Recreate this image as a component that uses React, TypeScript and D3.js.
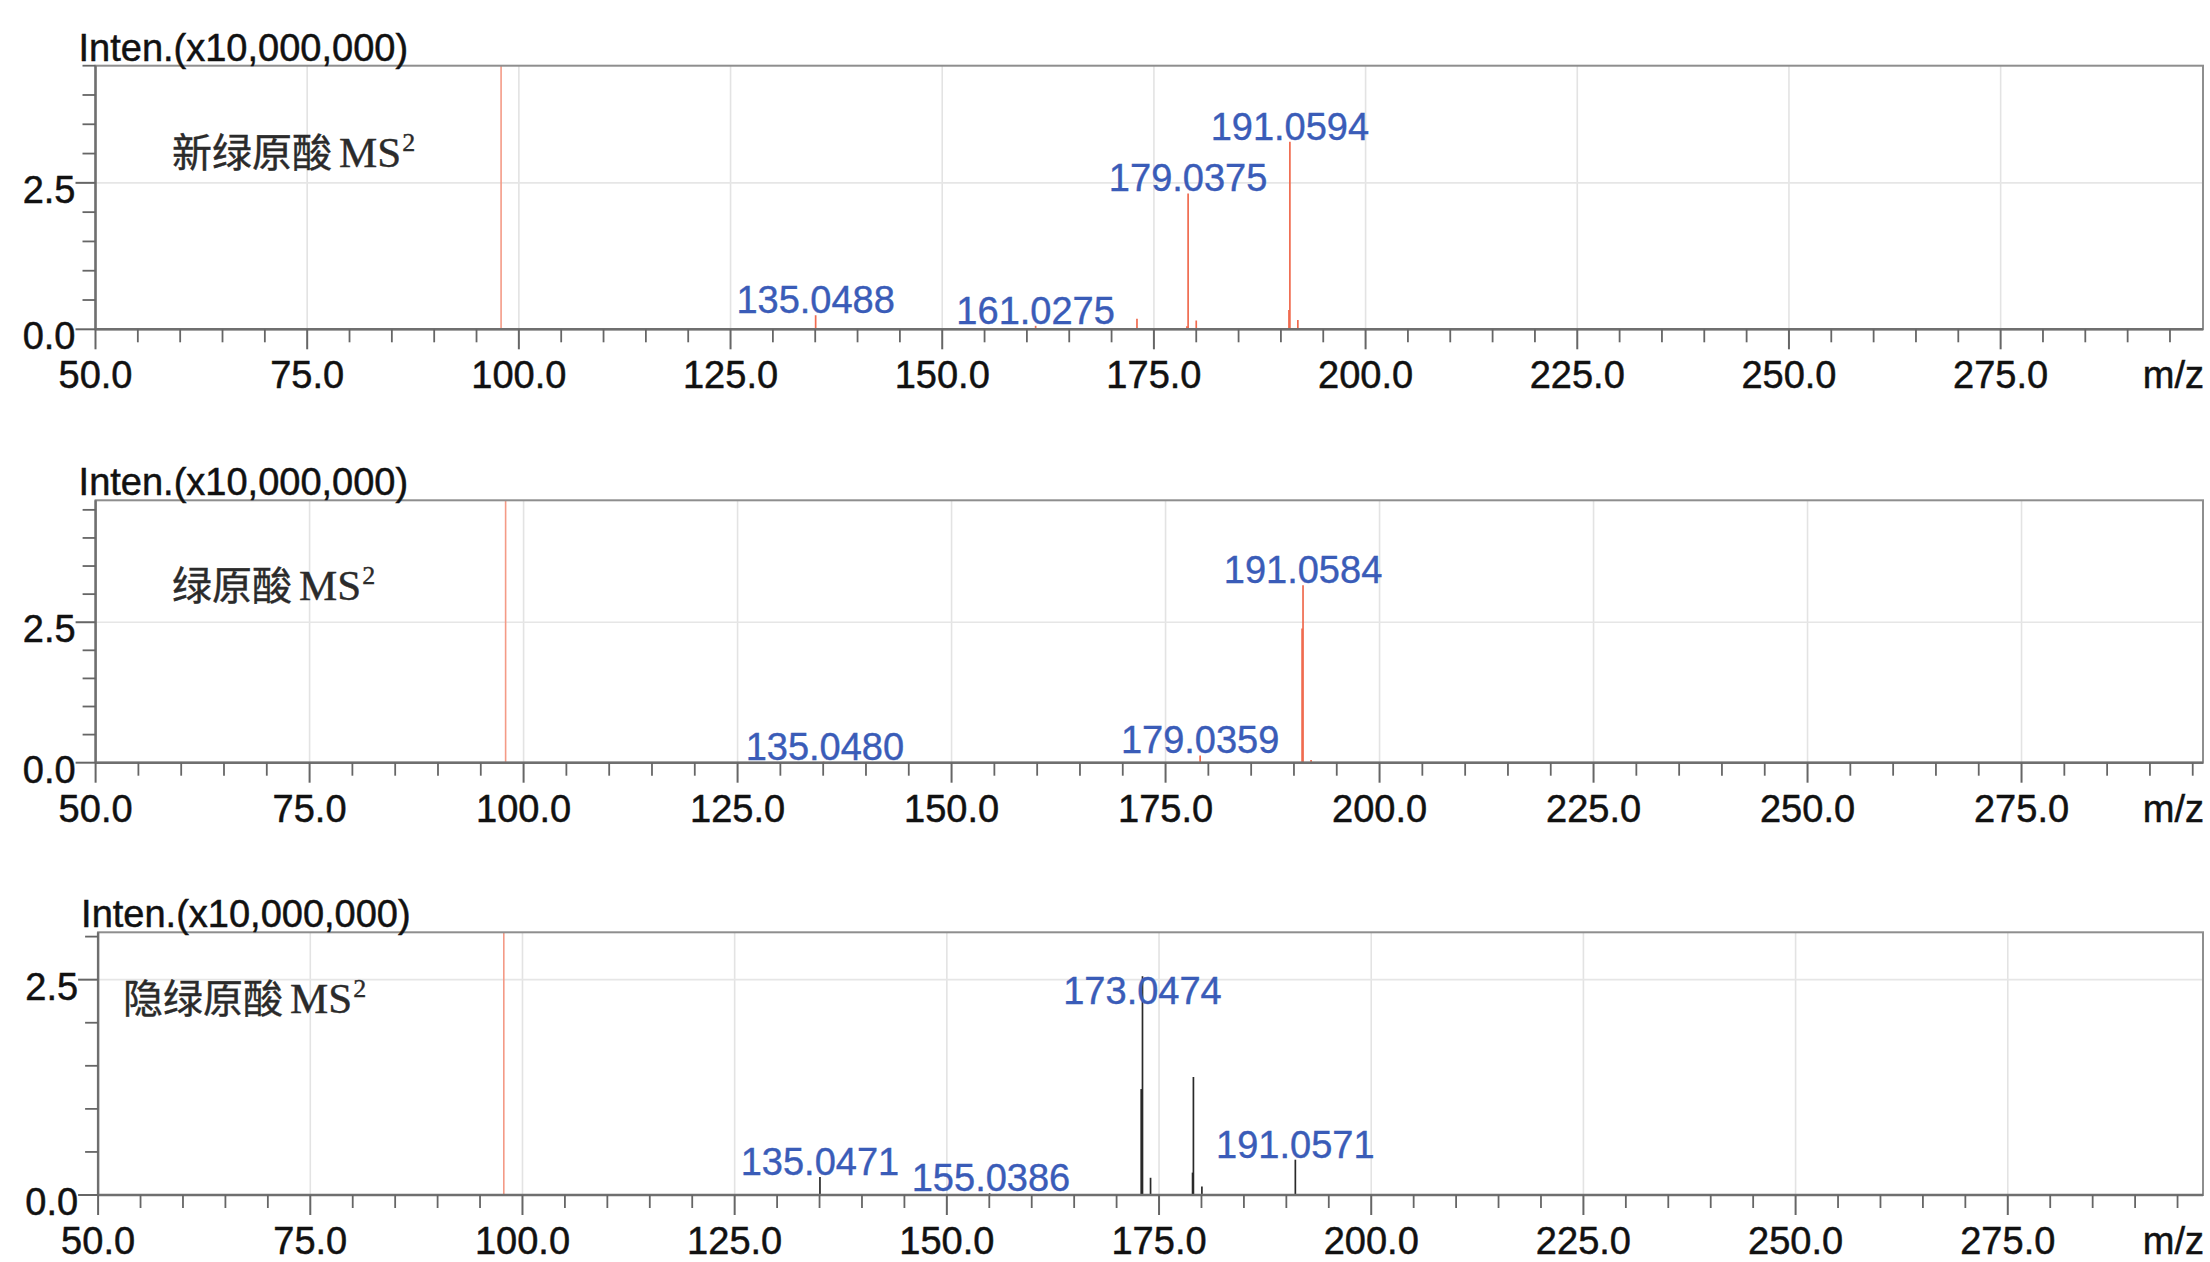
import React from "react";
import * as d3 from "d3";

const W = 2210;
const H = 1262;

// ---- data ----
const compoundNames = ["新绿原酸", "绿原酸", "隐绿原酸"];
const intenMax = [4.5, 4.67, 3.05];
const mzMin = 50;
const mzMax = [298.9, 296.2, 298.0];
const precursorMz = [97.9, 97.9, 97.8];
const xMajorTicks = [50, 75, 100, 125, 150, 175, 200, 225, 250, 275];
const xTickLabels = ["50.0", "75.0", "100.0", "125.0", "150.0", "175.0", "200.0", "225.0", "250.0", "275.0"];
const yMajorTicks = [0, 2.5];
const yTickLabels = ["0.0", "2.5"];

// panel 1: 新绿原酸
const p1Mz = [135.05, 161.03, 173.0, 178.9, 179.04, 180.0, 190.95, 191.06, 192.0];
const p1Inten = [0.24, 0.06, 0.18, 0.05, 2.32, 0.15, 0.33, 3.2, 0.16];
const p1LabelText = ["135.0488", "161.0275", "179.0375", "191.0594"];
const p1LabelMz = [135.05, 161.03, 179.04, 191.06];
const p1LabelInten = [0.24, 0.06, 2.32, 3.2];

// panel 2: 绿原酸
const p2Mz = [135.05, 179.04, 190.95, 191.06, 192.0];
const p2Inten = [0.02, 0.13, 2.39, 3.16, 0.05];
const p2LabelText = ["135.0480", "179.0359", "191.0584"];
const p2LabelMz = [135.2, 179.04, 191.06];
const p2LabelInten = [0.02, 0.13, 3.16];

// panel 3: 隐绿原酸
const p3Mz = [135.05, 155.04, 172.9, 173.05, 174.0, 178.95, 179.05, 180.05, 191.06];
const p3Inten = [0.21, 0.02, 1.23, 2.54, 0.2, 0.26, 1.37, 0.1, 0.41];
const p3LabelText = ["135.0471", "155.0386", "173.0474", "191.0571"];
const p3LabelMz = [135.05, 155.2, 173.05, 191.06];
const p3LabelInten = [0.21, 0.02, 2.19, 0.41];

const peakMz = [p1Mz, p2Mz, p3Mz];
const peakInten = [p1Inten, p2Inten, p3Inten];
const labelText = [p1LabelText, p2LabelText, p3LabelText];
const labelMz = [p1LabelMz, p2LabelMz, p3LabelMz];
const labelInten = [p1LabelInten, p2LabelInten, p3LabelInten];

// ---- layout ----
const panelTop = [65.7, 500.3, 932.3];
const panelBottom = [329.3, 762.7, 1195];
const panelLeft = [95.5, 95.6, 98.1];
const panelRight = 2203;
const nameX = [172, 172, 123];
const nameDy = [101, 99.7, 80.7];
const peakColor = ["#f06a4e", "#f06a4e", "#2a2a2a"];

const SANS = "'Liberation Sans', Arial, Helvetica, sans-serif";
const LABEL_BLUE = "#3a5cb8";

function Panel({ i }: { i: number }) {
  const top = panelTop[i];
  const bottom = panelBottom[i];
  const left = panelLeft[i];
  const x = d3.scaleLinear().domain([mzMin, mzMax[i]]).range([left, panelRight]);
  const y = d3.scaleLinear().domain([0, intenMax[i]]).range([bottom, top]);

  const minorX = d3.range(50, mzMax[i], 5).filter((v) => v % 25 !== 0);
  const minorY = d3.range(0, intenMax[i] + 1e-6, 0.5).filter((v) => Math.abs(v % 2.5) > 1e-6);

  const txt = { fontFamily: SANS, fontSize: 38, fill: "#111", stroke: "#111", strokeWidth: 0.5 };

  return (
    <g>
      {/* grid */}
      {xMajorTicks.filter((v) => v > mzMin).map((v) => (
        <line key={"gx" + v} x1={x(v)} x2={x(v)} y1={top} y2={bottom} stroke="#e3e3e3" strokeWidth={1.6} />
      ))}
      {yMajorTicks.filter((v) => v > 0).map((v) => (
        <line key={"gy" + v} x1={left} x2={panelRight} y1={y(v)} y2={y(v)} stroke="#e6e6e6" strokeWidth={1.6} />
      ))}
      {/* precursor marker */}
      <line x1={x(precursorMz[i])} x2={x(precursorMz[i])} y1={top} y2={bottom} stroke="#f49a86" strokeWidth={1.6} />
      {/* peaks */}
      {peakMz[i].map((m, k) => (
        <line key={"pk" + k} x1={x(m)} x2={x(m)} y1={bottom} y2={y(peakInten[i][k])} stroke={peakColor[i]} strokeWidth={1.7} />
      ))}
      {/* frame */}
      <rect x={left} y={top} width={panelRight - left} height={bottom - top} fill="none" stroke="#8e8e8e" strokeWidth={2} />
      <line x1={left} x2={left} y1={top} y2={bottom} stroke="#6f6f6f" strokeWidth={2.4} />
      <line x1={left} x2={panelRight} y1={bottom} y2={bottom} stroke="#6f6f6f" strokeWidth={2.6} />
      {/* x ticks */}
      {xMajorTicks.map((v) => (
        <line key={"xt" + v} x1={x(v)} x2={x(v)} y1={bottom} y2={bottom + 20} stroke="#666" strokeWidth={2} />
      ))}
      {minorX.map((v) => (
        <line key={"xm" + v} x1={x(v)} x2={x(v)} y1={bottom} y2={bottom + 13} stroke="#666" strokeWidth={1.8} />
      ))}
      {xMajorTicks.map((v, k) => (
        <text key={"xl" + v} x={x(v)} y={bottom + 59} textAnchor="middle" {...txt}>
          {xTickLabels[k]}
        </text>
      ))}
      <text x={2204} y={bottom + 59} textAnchor="end" {...txt}>m/z</text>
      {/* y ticks */}
      {yMajorTicks.map((v, k) => (
        <g key={"yt" + v}>
          <line x1={left - 20} x2={left} y1={y(v)} y2={y(v)} stroke="#666" strokeWidth={2} />
          <text x={left - 20} y={y(v) + 20} textAnchor="end" {...txt}>
            {yTickLabels[k]}
          </text>
        </g>
      ))}
      {minorY.map((v) => (
        <line key={"ym" + v} x1={left - 13} x2={left} y1={y(v)} y2={y(v)} stroke="#666" strokeWidth={1.8} />
      ))}
      {/* axis title */}
      <text x={left - 17} y={top - 5} {...txt}>
        Inten.(x10,000,000)
      </text>
      {/* compound label */}
      <text x={nameX[i]} y={top + nameDy[i]} fill="#2b2b2b" stroke="#2b2b2b" strokeWidth={0.4}>
        <tspan fontFamily="'Noto Sans CJK SC', sans-serif" fontSize={40}>{compoundNames[i]}</tspan>
        <tspan dx={7} fontFamily="'Liberation Serif', 'Times New Roman', serif" fontSize={43}>MS</tspan>
        <tspan dx={1} dy={-16} fontFamily="'Liberation Serif', 'Times New Roman', serif" fontSize={26}>2</tspan>
      </text>
      {/* peak labels */}
      {labelText[i].map((t, k) => (
        <text
          key={"pl" + k}
          x={x(labelMz[i][k])}
          y={y(labelInten[i][k]) - 2}
          textAnchor="middle"
          fontFamily={SANS}
          fontSize={38}
          fill={LABEL_BLUE}
          stroke={LABEL_BLUE}
          strokeWidth={0.4}
        >
          {t}
        </text>
      ))}
    </g>
  );
}

export default function App() {
  return (
    <svg
      width={W}
      height={H}
      viewBox={`0 0 ${W} ${H}`}
      style={{ position: "absolute", left: 0, top: 0, background: "#fff", display: "block" }}
    >
      <rect x={0} y={0} width={W} height={H} fill="#fff" />
      {[0, 1, 2].map((i) => (
        <Panel key={i} i={i} />
      ))}
    </svg>
  );
}
